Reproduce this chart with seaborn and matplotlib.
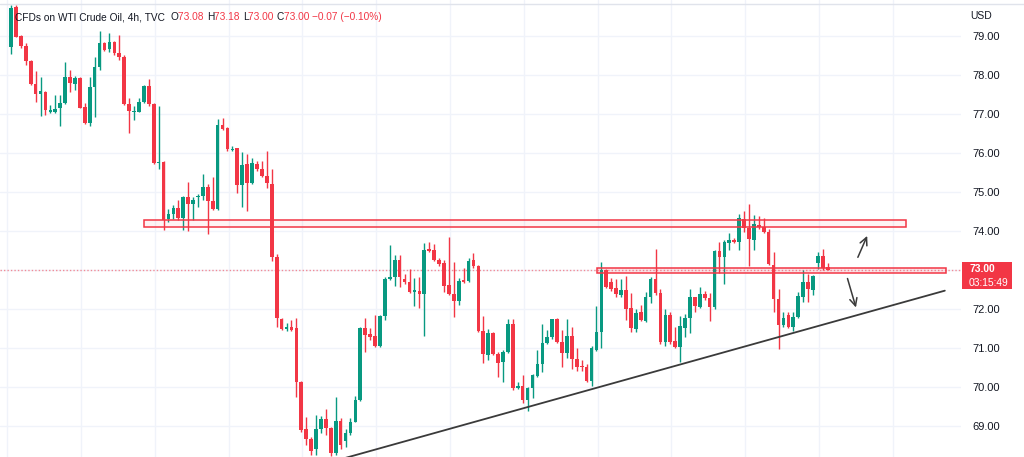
import numpy as np
import pandas as pd
import matplotlib
matplotlib.use("Agg")
import matplotlib.pyplot as plt
import seaborn as sns
from matplotlib.patches import Rectangle
from matplotlib.lines import Line2D

# ---------------- data ----------------
opens = [78.72, 79.75, 79.00, 78.74, 78.36, 77.76, 77.50, 77.57, 77.06, 77.06,
         77.15, 77.27, 77.96, 77.77, 77.92, 77.17, 76.78, 77.70, 78.21, 78.81,
         78.66, 78.85, 78.56, 78.47, 77.25, 77.05, 77.06, 77.32, 77.72, 77.26,
         75.74, 75.77, 74.31, 74.44, 74.60, 74.34, 74.86, 74.68, 74.86, 74.90,
         75.12, 74.78, 74.56, 76.72, 76.63, 76.08, 76.12, 75.18, 75.72, 75.22,
         75.72, 75.58, 75.41, 75.21, 73.33, 71.74, 71.49, 71.55, 71.50, 70.14,
         68.92, 68.66, 68.40, 68.92, 69.18, 68.94, 68.30, 69.14, 68.62, 68.81,
         69.11, 69.67, 71.52, 71.35, 71.32, 71.06, 71.83, 72.77, 72.83, 73.26,
         72.78, 72.70, 72.44, 72.47, 72.38, 73.53, 73.51, 73.26, 73.17, 72.62,
         72.38, 72.20, 72.74, 72.72, 73.26, 73.10, 71.44, 70.82, 71.38, 70.84,
         70.65, 70.89, 71.62, 69.98, 70.03, 69.67, 69.97, 70.28, 70.59, 71.12,
         71.27, 71.74, 71.16, 70.88, 71.31, 70.71, 70.55, 70.52, 70.15, 70.95,
         71.42, 73.00, 72.70, 72.53, 72.36, 72.49, 72.03, 71.48, 71.92, 71.70,
         72.32, 72.76, 72.40, 71.16, 71.85, 71.19, 71.03, 71.52, 71.76, 72.30,
         72.06, 72.38, 72.27, 72.04, 73.49, 73.34, 73.70, 73.77, 73.73, 74.30,
         74.08, 73.77, 74.15, 74.09, 73.98, 73.13, 72.25, 71.59, 71.85, 71.55,
         71.80, 72.31, 72.68, 72.49, 73.19, 73.36, 73.08]
highs = [79.79, 79.80, 79.02, 78.81, 78.38, 78.11, 77.96, 77.60, 77.23, 77.49,
         77.49, 78.34, 78.13, 77.97, 77.94, 77.27, 77.96, 78.47, 79.13, 78.85,
         79.07, 78.87, 79.03, 78.52, 77.40, 77.20, 77.40, 77.74, 77.89, 77.28,
         77.20, 75.80, 74.56, 74.66, 74.79, 74.90, 75.26, 74.88, 74.96, 75.46,
         75.20, 75.39, 76.86, 76.89, 76.66, 76.18, 76.12, 76.03, 75.97, 75.88,
         75.80, 75.80, 76.06, 75.60, 73.40, 71.78, 71.65, 71.72, 71.76, 70.16,
         69.24, 68.72, 69.28, 69.26, 69.43, 68.97, 69.75, 69.20, 68.93, 69.20,
         69.77, 71.55, 71.76, 71.50, 71.85, 71.85, 72.83, 73.64, 73.38, 73.38,
         72.91, 73.02, 72.79, 72.82, 73.68, 73.73, 73.67, 73.32, 73.26, 73.84,
         73.21, 72.80, 73.04, 73.31, 73.44, 73.13, 71.82, 71.48, 71.40, 70.91,
         70.96, 71.74, 71.74, 70.14, 70.31, 70.01, 70.34, 70.95, 71.62, 71.46,
         71.74, 71.76, 71.46, 71.74, 71.53, 71.00, 70.68, 70.60, 71.06, 72.08,
         73.21, 73.02, 72.79, 72.78, 72.76, 72.85, 72.40, 71.99, 72.10, 72.44,
         72.83, 73.53, 72.50, 71.99, 71.92, 71.53, 71.82, 71.87, 72.50, 72.32,
         72.57, 72.45, 72.42, 73.52, 73.73, 73.76, 73.94, 73.82, 74.44, 74.52,
         74.69, 74.41, 74.38, 74.33, 74.04, 73.47, 72.50, 71.93, 71.93, 71.93,
         72.44, 73.00, 72.91, 72.87, 73.45, 73.53, 73.18]
lows = [78.54, 78.97, 78.70, 78.26, 77.74, 77.32, 76.95, 76.97, 77.03, 77.03,
        76.69, 77.25, 77.57, 77.62, 77.15, 76.74, 76.69, 76.93, 78.13, 78.62,
        78.58, 78.52, 78.38, 77.23, 76.50, 76.85, 77.04, 77.27, 77.20, 75.72,
        75.60, 74.03, 74.24, 74.30, 74.28, 74.03, 74.00, 74.28, 74.62, 74.80,
        73.92, 74.54, 74.54, 76.58, 76.06, 76.04, 74.97, 74.61, 74.52, 75.20,
        75.55, 75.39, 75.09, 73.23, 71.55, 71.46, 71.44, 71.44, 69.75, 68.85,
        68.50, 68.25, 68.25, 68.81, 68.77, 68.22, 68.25, 68.42, 68.45, 68.78,
        69.09, 69.65, 70.90, 71.20, 71.02, 71.03, 71.72, 72.74, 72.59, 72.56,
        72.65, 72.42, 72.08, 72.02, 71.30, 73.47, 73.24, 73.11, 72.44, 72.35,
        71.80, 72.10, 72.67, 72.69, 73.06, 71.40, 70.61, 70.70, 70.82, 70.26,
        70.14, 70.86, 69.92, 69.96, 69.60, 69.39, 69.71, 70.25, 70.39, 71.10,
        71.24, 71.13, 70.52, 70.74, 70.45, 70.42, 70.40, 70.13, 70.03, 70.93,
        71.00, 72.55, 72.45, 72.30, 72.32, 71.72, 71.42, 71.40, 71.68, 71.67,
        72.15, 72.35, 71.10, 71.05, 71.09, 71.00, 70.65, 71.29, 71.38, 71.93,
        72.02, 72.22, 71.69, 72.01, 72.92, 72.64, 73.50, 73.68, 73.50, 73.98,
        73.10, 73.51, 74.05, 73.94, 73.12, 71.93, 70.97, 71.55, 71.50, 71.44,
        71.77, 72.18, 72.19, 72.36, 73.02, 73.00, 73.00]
closes = [79.72, 78.98, 78.74, 78.36, 77.76, 77.50, 77.60, 77.10, 77.10, 77.14,
          77.27, 77.96, 77.79, 77.92, 77.16, 76.78, 77.70, 78.21, 78.83, 78.64,
          78.85, 78.56, 78.47, 77.25, 77.08, 77.08, 77.32, 77.72, 77.26, 75.74,
          75.76, 74.28, 74.44, 74.60, 74.34, 74.88, 74.68, 74.79, 74.89, 75.14,
          74.78, 74.56, 76.72, 76.62, 76.09, 76.10, 75.18, 75.69, 75.24, 75.74,
          75.58, 75.41, 75.22, 73.33, 71.76, 71.48, 71.55, 71.45, 70.14, 68.90,
          68.66, 68.35, 68.92, 69.18, 68.94, 68.30, 69.14, 68.51, 68.81, 69.11,
          69.67, 71.52, 71.33, 71.28, 71.06, 71.83, 72.77, 72.83, 73.26, 72.81,
          72.70, 72.44, 72.48, 72.38, 73.51, 73.49, 73.26, 73.15, 72.60, 72.38,
          72.20, 72.72, 72.70, 73.24, 73.10, 71.44, 70.85, 71.38, 70.84, 70.62,
          70.89, 71.62, 69.97, 70.03, 69.67, 69.98, 70.31, 70.59, 71.12, 71.27,
          71.74, 71.16, 70.86, 71.31, 70.71, 70.50, 70.50, 70.15, 70.99, 71.42,
          73.00, 72.57, 72.51, 72.38, 72.49, 72.00, 71.50, 71.89, 71.72, 72.32,
          72.76, 72.40, 71.16, 71.85, 71.16, 71.03, 71.56, 71.76, 72.30, 72.08,
          72.38, 72.27, 72.04, 73.49, 73.33, 73.73, 73.77, 73.72, 74.33, 74.07,
          73.79, 74.18, 74.09, 73.98, 73.15, 72.25, 71.59, 71.76, 71.55, 71.80,
          72.33, 72.68, 72.51, 72.85, 73.36, 73.04, 73.00]

price_ticks = [69, 70, 71, 72, 73, 74, 75, 76, 77, 78, 79]
title_text = "CFDs on WTI Crude Oil, 4h, TVC"
ohlc_labels = ["O", "H", "L", "C"]
ohlc_values = ["73.08", "73.18", "73.00", "73.00"]
change_text = "\u22120.07 (\u22120.10%)"
currency = "USD"
last_price = 73.00
countdown = "03:15:49"
resistance_zone = [74.10, 74.28]
pivot_zone = [72.93, 73.06]
trend_x = [66.5, 189.8]
trend_y = [68.13, 72.47]

GREEN = "#089981"
RED = "#f23645"
TEXT = "#131722"
GRID = "#f0f3fa"

# ---------------- figure ----------------
sns.set_theme(style="white")
plt.rcParams['font.family'] = ['Liberation Sans', 'DejaVu Sans']

W, H = 1024, 457
fig = plt.figure(figsize=(W / 100, H / 100), dpi=100)
fig.patch.set_facecolor("white")
ax = fig.add_axes([0, 0, 961 / W, 1])

df = pd.DataFrame({"open": opens, "high": highs, "low": lows, "close": closes})
df["idx"] = np.arange(len(df))
df["up"] = df["close"] >= df["open"]
cols = np.where(df["up"], GREEN, RED)

ax.set_xlim(-2.236, 193.09)
ax.set_ylim(68.205, 79.923)

# grid
for t in price_ticks:
    ax.axhline(t, color=GRID, lw=1, zorder=0)
for gx in np.arange(-0.77, 193, 15.0):
    ax.axvline(gx, color=GRID, lw=1, zorder=0)

# candles
ax.vlines(df["idx"], df["low"], df["high"], colors=cols, lw=1, zorder=3)
body_bottom = np.minimum(df["open"], df["close"])
body_h = np.maximum((df["close"] - df["open"]).abs(), 0.03)
ax.bar(df["idx"], body_h, bottom=body_bottom, width=0.74, color=cols,
       linewidth=0, zorder=4)

# zones
ax.add_patch(Rectangle((27.0, resistance_zone[0]), 181.9 - 27.0,
                       resistance_zone[1] - resistance_zone[0],
                       facecolor=(0.95, 0.21, 0.27, 0.06), edgecolor=RED,
                       lw=1.1, zorder=5))
ax.add_patch(Rectangle((119.1, pivot_zone[0]), 190.0 - 119.1,
                       pivot_zone[1] - pivot_zone[0],
                       facecolor=(0.95, 0.21, 0.27, 0.12), edgecolor=RED,
                       lw=1.1, zorder=5))
# last price dotted line
ax.axhline(last_price, color=RED, lw=1, ls=(0, (1, 1.5)), alpha=0.55, zorder=2)

# trendline
sns.lineplot(x=trend_x, y=trend_y, ax=ax, color="#3a3a3a", lw=1.3, zorder=6)

# arrows
ax.annotate("", xy=(174.25, 73.94), xytext=(171.9, 73.26),
            arrowprops=dict(arrowstyle="->,head_length=0.45,head_width=0.22",
                            color="#3a3a3a", lw=1.1), zorder=7)
ax.annotate("", xy=(171.9, 71.97), xytext=(169.86, 72.85),
            arrowprops=dict(arrowstyle="->,head_length=0.45,head_width=0.22",
                            color="#3a3a3a", lw=1.1), zorder=7)

# axis labels on the right (the 73.00 tick is covered by the price label)
ax.set_yticks(price_ticks)
ax.set_yticklabels(["" if abs(t - last_price) < 1e-9 else f"{t:.2f}"
                    for t in price_ticks])
ax.yaxis.tick_right()
ax.tick_params(axis="y", length=0, pad=8, labelsize=8, labelcolor=TEXT)
ax.set_xticks([])
for s in ax.spines.values():
    s.set_visible(False)
ax.grid(False)


def fx(px):
    return px / W


def fy(py):
    return 1 - py / H


# header, chained piece by piece
renderer = fig.canvas.get_renderer()
HFS = 7.3
pieces = [(title_text + "  ", TEXT)]
for lab, val in zip(ohlc_labels, ohlc_values):
    pieces.append((lab, TEXT))
    pieces.append((val + " ", RED))
pieces.append((change_text, RED))
xcur = 15
for txt, col in pieces:
    t = fig.text(fx(xcur), fy(17), txt, color=col, fontsize=HFS, va="center")
    bb = t.get_window_extent(renderer=renderer)
    xcur += bb.width

fig.text(fx(970), fy(16), currency, color=TEXT, fontsize=7.5, va="center")

# price label
fig.patches.append(Rectangle((fx(962), fy(289)), 50 / W, 27 / H,
                             transform=fig.transFigure, facecolor=RED,
                             edgecolor="none", zorder=10))
fig.text(fx(969), fy(268.8), f"{last_price:.2f}", color="white", fontsize=7.4,
         fontweight="bold", va="center", zorder=11)
fig.text(fx(969), fy(282.6), countdown, color="white", fontsize=7.4,
         va="center", zorder=11)

# frame lines
fig.add_artist(Line2D([0, 1], [fy(3.5), fy(3.5)], transform=fig.transFigure,
                      color="#e0e3eb", lw=1))

fig.savefig("out.png", dpi=100, facecolor="white")
